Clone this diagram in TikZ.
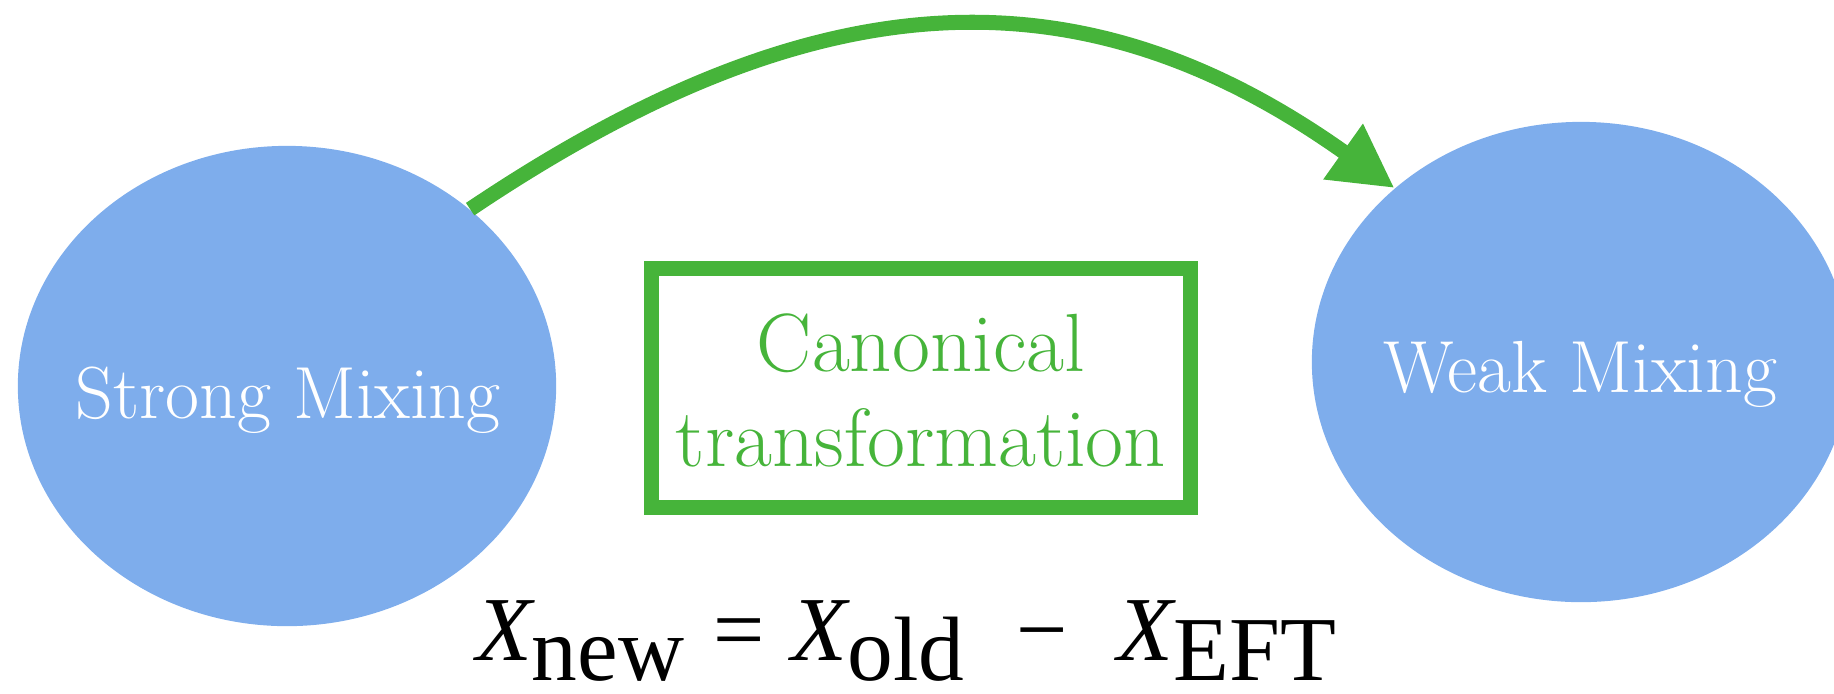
\documentclass[tikz,border=0pt]{standalone}
\usepackage{fontspec}
\newfontfamily\eqfont{Liberation Serif}
\usetikzlibrary{shapes.geometric,arrows.meta}
\definecolor{mixblue}{HTML}{7EADEC}
\definecolor{canongreen}{HTML}{46B43A}
\newcommand{\lowsub}[1]{\raisebox{-0.2cm}{\upshape #1}}
\tikzset{
  regime/.style={ellipse, fill=mixblue, inner sep=0pt, minimum width=5.38cm, minimum height=4.8cm},
  regimelabel/.style={white, anchor=base, font=\fontsize{21}{25}\selectfont},
  transbox/.style={draw=canongreen, line width=0.15cm, minimum width=5.39cm, minimum height=2.39cm},
  canontext/.style={text=canongreen, align=center, inner sep=0pt, font=\fontsize{23.5}{27}\selectfont},
  flow/.style={canongreen, line width=0.15cm, -{Triangle[length=0.63cm, width=0.64cm]}}
}
\begin{document}
\begin{tikzpicture}[x=0.01cm, y=-0.01cm]
  \useasboundingbox (0,0) rectangle (1834,693);
  % mixing regimes
  \node[regime] (strong) at (287,386) {};
  \node[regime] (weak) at (1581,362) {};
  \node[regimelabel] (strongtxt) at (288,418) {Strong Mixing};
  \node[regimelabel] (weaktxt) at (1580,392) {Weak Mixing};

  % canonical transformation
  \node[transbox] (canon) at (921,388) {};
  \node[canontext] (canontxt) at (921,390) {Canonical\\transformation};
  \draw[flow] (strong.44) .. controls +(345,-232) and +(-315,-224) .. (weak.137);

  % subtraction of the EFT part
  \node[anchor=base, inner sep=0pt, font=\eqfont\fontsize{26}{30}\selectfont] (xnew) at (906,660)
    {\itshape X\lowsub{new}\ =\ X\lowsub{old}\hspace{0.5em}−\hspace{0.5em}X\lowsub{EFT}};
\end{tikzpicture}
\end{document}
